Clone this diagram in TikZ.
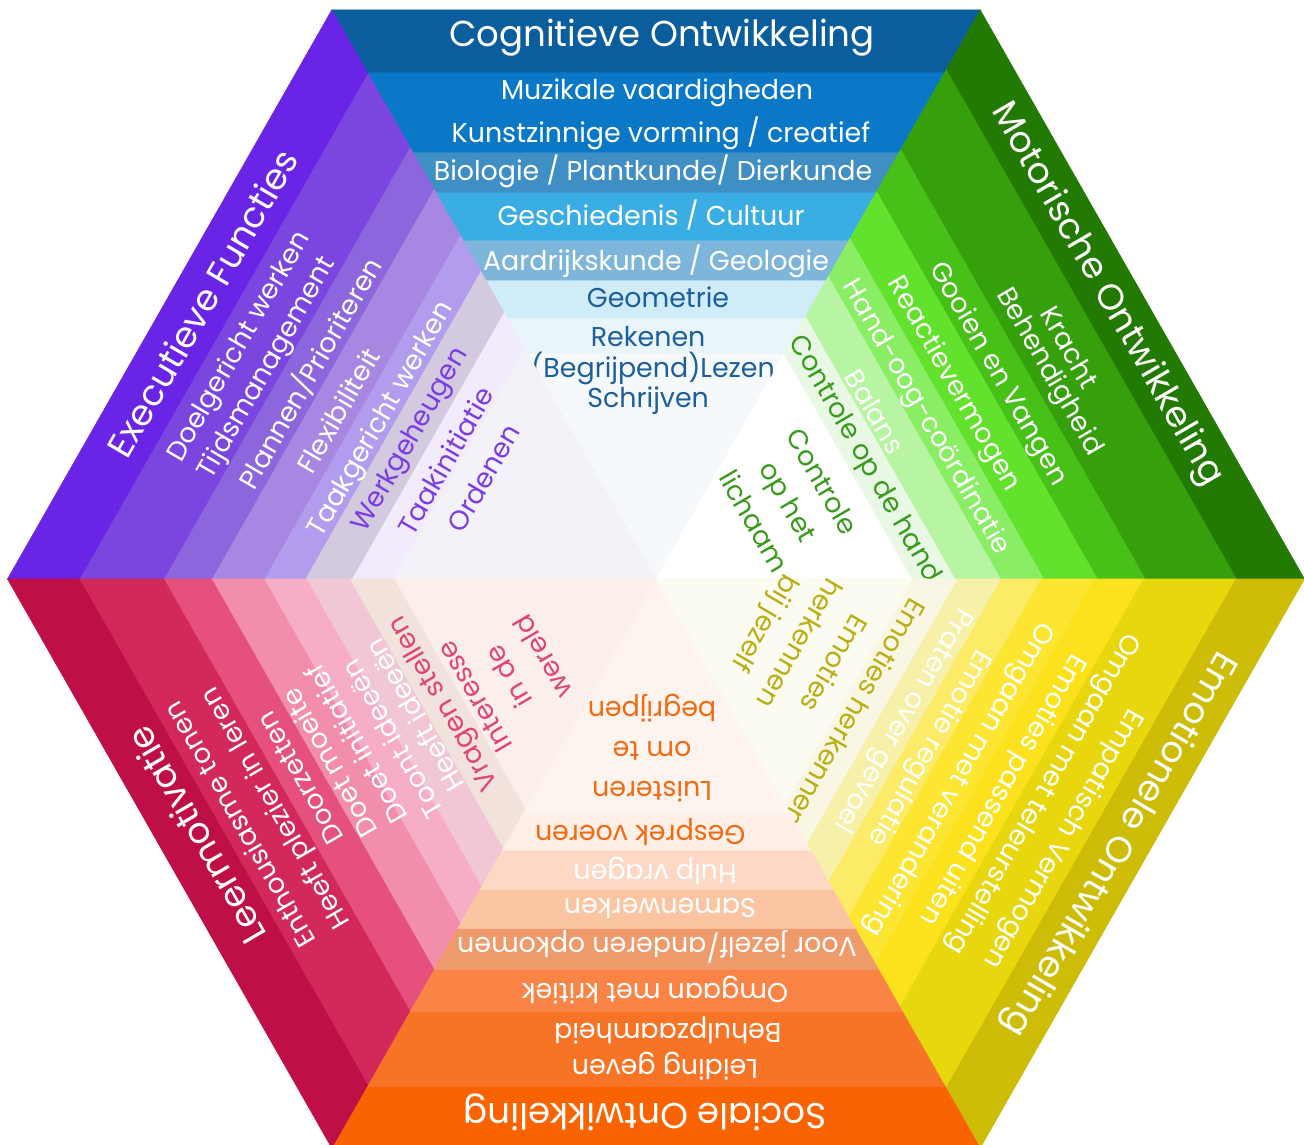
\documentclass[tikz,border=0pt]{standalone}
\usepackage{fontspec}
\setmainfont{Poppins}

\definecolor{cog1}{HTML}{0B5E9E}\definecolor{cog2}{HTML}{0A78C6}\definecolor{cog3}{HTML}{3F8EC4}\definecolor{cog4}{HTML}{3AADE5}
\definecolor{cog5}{HTML}{7DB5DB}\definecolor{cog6}{HTML}{D0ECF8}\definecolor{cog7}{HTML}{EAF5FB}\definecolor{cog8}{HTML}{F6F9FC}
\definecolor{cogT}{HTML}{1D5E9C}
\definecolor{exe1}{HTML}{6A24E6}\definecolor{exe2}{HTML}{7B46E0}\definecolor{exe3}{HTML}{8D66DD}\definecolor{exe4}{HTML}{A787E1}
\definecolor{exe5}{HTML}{B29CEE}\definecolor{exe6}{HTML}{D3CADF}\definecolor{exe7}{HTML}{F2EBFB}\definecolor{exe8}{HTML}{F3F2F8}
\definecolor{exeT}{HTML}{7B3DE2}
\definecolor{mot1}{HTML}{227A02}\definecolor{mot2}{HTML}{35A00C}\definecolor{mot3}{HTML}{47C018}\definecolor{mot4}{HTML}{62E22C}
\definecolor{mot5}{HTML}{8AEE64}\definecolor{mot6}{HTML}{B8F5A2}\definecolor{mot7}{HTML}{E8F8E4}\definecolor{mot8}{HTML}{FFFFFF}
\definecolor{motT}{HTML}{3A9A1E}
\definecolor{emo1}{HTML}{CEBD06}\definecolor{emo2}{HTML}{E9D70E}\definecolor{emo3}{HTML}{FBE21C}\definecolor{emo4}{HTML}{FDE632}
\definecolor{emo5}{HTML}{FCEB66}\definecolor{emo6}{HTML}{F6F0A8}\definecolor{emo7}{HTML}{F9F7E4}\definecolor{emo8}{HTML}{FBFBF1}
\definecolor{emoT}{HTML}{BBAE12}
\definecolor{soc1}{HTML}{F96302}\definecolor{soc2}{HTML}{F77427}\definecolor{soc3}{HTML}{FA8445}\definecolor{soc4}{HTML}{EE9A6B}
\definecolor{soc5}{HTML}{FCC5A2}\definecolor{soc6}{HTML}{FDD8C5}\definecolor{soc7}{HTML}{FDEFE6}\definecolor{soc8}{HTML}{FDF4EF}
\definecolor{socT}{HTML}{F06A12}
\definecolor{lee1}{HTML}{BF0F47}\definecolor{lee2}{HTML}{D2285A}\definecolor{lee3}{HTML}{E5507D}\definecolor{lee4}{HTML}{F28EAB}
\definecolor{lee5}{HTML}{F5AEC6}\definecolor{lee6}{HTML}{F2C7D5}\definecolor{lee7}{HTML}{F2E2DC}\definecolor{lee8}{HTML}{FCEFEB}
\definecolor{leeT}{HTML}{DD4677}

\tikzset{
  band/.style={fill=#1, draw=#1, line width=0.3pt},
  lbl/.style={text=white, inner sep=0pt, font=\fontsize{15.5}{18}\selectfont},
  ttl/.style={lbl, font=\fontsize{20.5}{24}\selectfont},
  stack/.style={lbl, align=center, font=\fontsize{15.5}{22.7}\selectfont},
}

% one band of a sector, from distance #2 to distance #3 off the centre
\newcommand{\hexband}[3]{\path[band=#1] ({-0.57735*#2},#2) -- ({0.57735*#2},#2) -- ({0.57735*#3},#3) -- ({-0.57735*#3},#3) -- cycle;}

\begin{document}
\begin{tikzpicture}[x=0.02cm, y=0.02cm]
\path[fill=white, use as bounding box] (-656,-565) rectangle (648,579);
\begin{scope}[xscale=0.987]

% Cognitieve Ontwikkeling
\begin{scope}[rotate=0, transform shape]
  \foreach \a/\b/\c in {0/226/cog8, 226/261/cog7, 261/299/cog6, 299/339/cog5, 339/387/cog4, 387/427/cog3, 427/507/cog2, 507/569/cog1}
    {\hexband{\c}{\a}{\b}}
  \node[ttl] (cog0) at (6,541) {Cognitieve Ontwikkeling};
  \node[lbl] (cog1) at (1,486) {Muzikale vaardigheden};
  \node[lbl] (cog2) at (5,446) {Kunstzinnige vorming / creatief};
  \node[lbl] (cog3) at (-3,408) {Biologie / Plantkunde/ Dierkunde};
  \node[lbl] (cog4) at (-5,364) {Geschiedenis / Cultuur};
  \node[lbl] (cog5) at (0,318) {Aardrijkskunde / Geologie};
  \node[lbl, text=cogT] (cog6) at (2,282) {Geometrie};
  \node[lbl, text=cogT] (cog7) at (-8,242) {Rekenen};
  \node[lbl, text=cogT] (cog8) at (-3,211) {(Begrijpend)Lezen};
  \node[lbl, text=cogT] (cog9) at (-8,178) {Schrijven};
\end{scope}

% Executieve Functies
\begin{scope}[rotate=60, transform shape]
  \foreach \a/\b/\c in {0/231/exe8, 231/267/exe7, 267/308/exe6, 308/344/exe5, 344/390/exe4, 390/432/exe3, 432/506/exe2, 506/569/exe1}
    {\hexband{\c}{\a}{\b}}
  \node[ttl] (exe0) at (9,536) {Executieve Functies};
  \node[lbl] (exe1) at (-10,481) {Doelgericht werken};
  \node[lbl] (exe2) at (-14,446) {Tijdsmanagement};
  \node[lbl] (exe3) at (3,407) {Plannen/Prioriteren};
  \node[lbl] (exe4) at (-15,363) {Flexibiliteit};
  \node[lbl] (exe5) at (-1,320) {Taakgericht werken};
  \node[lbl, text=exeT] (exe6) at (-4,284) {Werkgeheugen};
  \node[lbl, text=exeT] (exe7) at (-4,244) {Taakinitiatie};
  \node[lbl, text=exeT] (exe8) at (0,202) {Ordenen};
\end{scope}

% Motorische Ontwikkeling
\begin{scope}[rotate=-60, transform shape]
  \foreach \a/\b/\c in {0/225/mot8, 225/263/mot7, 263/303/mot6, 303/341/mot5, 341/388/mot4, 388/430/mot3, 430/510/mot2, 510/569/mot1}
    {\hexband{\c}{\a}{\b}}
  \node[ttl] (mot0) at (-18,537) {Motorische Ontwikkeling};
  \node[lbl] (mot1) at (9,479) {Kracht};
  \node[lbl] (mot2) at (20,448) {Behendigheid};
  \node[lbl] (mot3) at (-4,402) {Gooien en Vangen};
  \node[lbl] (mot4) at (-18,358) {Reactievermogen};
  \node[lbl] (mot5) at (-3,317) {Hand-oog-coördinatie};
  \node[lbl] (mot6) at (-34,276) {Balans};
  \node[lbl, text=motT] (mot7) at (2,242) {Controle op de hand};
  \node[stack, text=motT] (mot8) at (0,155) {Controle\\op het\\lichaam};
\end{scope}

% Emotionele Ontwikkeling
\begin{scope}[rotate=-120, transform shape]
  \foreach \a/\b/\c in {0/226/emo8, 226/265/emo7, 265/303/emo6, 303/338/emo5, 338/385/emo4, 385/428/emo3, 428/509/emo2, 509/569/emo1}
    {\hexband{\c}{\a}{\b}}
  \node[ttl] (emo0) at (-5,538) {Emotionele Ontwikkeling};
  \node[lbl] (emo1) at (19,486) {Empatisch Vermogen};
  \node[lbl] (emo2) at (-10,446) {Omgaan met teleurstelling};
  \node[lbl] (emo3) at (7,409) {Emoties passend uiten};
  \node[lbl] (emo4) at (20,365) {Omgaan met verandering};
  \node[lbl] (emo5) at (8,324) {Emotie regulatie};
  \node[lbl] (emo6) at (-3,286) {Praten over gevoel};
  \node[lbl, text=emoT] (emo7) at (16,242) {Emoties herkennen};
  \node[stack, text=emoT] (emo8) at (-17,156) {Emoties\\herkennen\\bij jezelf};
\end{scope}

% Sociale Ontwikkeling
\begin{scope}[rotate=180, transform shape]
  \foreach \a/\b/\c in {0/236/soc8, 236/272/soc7, 272/311/soc6, 311/350/soc5, 350/391/soc4, 391/433/soc3, 433/508/soc2, 508/569/soc1}
    {\hexband{\c}{\a}{\b}}
  \node[ttl] (soc0) at (11,533) {Sociale Ontwikkeling};
  \node[lbl] (soc1) at (-9,487) {Leiding geven};
  \node[lbl] (soc2) at (-12,451) {Behulpzaamheid};
  \node[lbl] (soc3) at (1,411) {Omgaan met kritiek};
  \node[lbl] (soc4) at (-1,368) {Voor jezelf/anderen opkomen};
  \node[lbl] (soc5) at (-4,329) {Samenwerken};
  \node[lbl] (soc6) at (1,292) {Hulp vragen};
  \node[lbl, text=socT] (soc7) at (16,253) {Gesprek voeren};
  \node[stack, text=socT] (soc8) at (4,169) {Luisteren\\om te\\begrijpen};
\end{scope}

% Leermotivatie
\begin{scope}[rotate=120, transform shape]
  \foreach \a/\b/\c in {0/230/lee8, 230/269/lee7, 269/307/lee6, 307/344/lee5, 344/390/lee4, 390/432/lee3, 432/506/lee2, 506/569/lee1}
    {\hexband{\c}{\a}{\b}}
  \node[ttl] (lee0) at (11,532) {Leermotivatie};
  \node[lbl] (lee1) at (-2,489) {Enthousiasme tonen};
  \node[lbl] (lee2) at (-6,447) {Heeft plezier in leren};
  \node[lbl] (lee3) at (8,412) {Doorzetten};
  \node[lbl] (lee4) at (6,379) {Doet moeite};
  \node[lbl] (lee5) at (9,346) {Doet initiatief};
  \node[lbl] (lee6) at (-5,312) {Toont ideeën};
  \node[lbl] (lee7) at (4,280) {Heeft ideeën};
  \node[lbl, text=leeT] (lee8) at (0,247) {Vragen stellen};
  \node[stack, text=leeT] (lee9) at (-10,178) {Interesse\\in de\\wereld};
\end{scope}

\end{scope}
\end{tikzpicture}
\end{document}
